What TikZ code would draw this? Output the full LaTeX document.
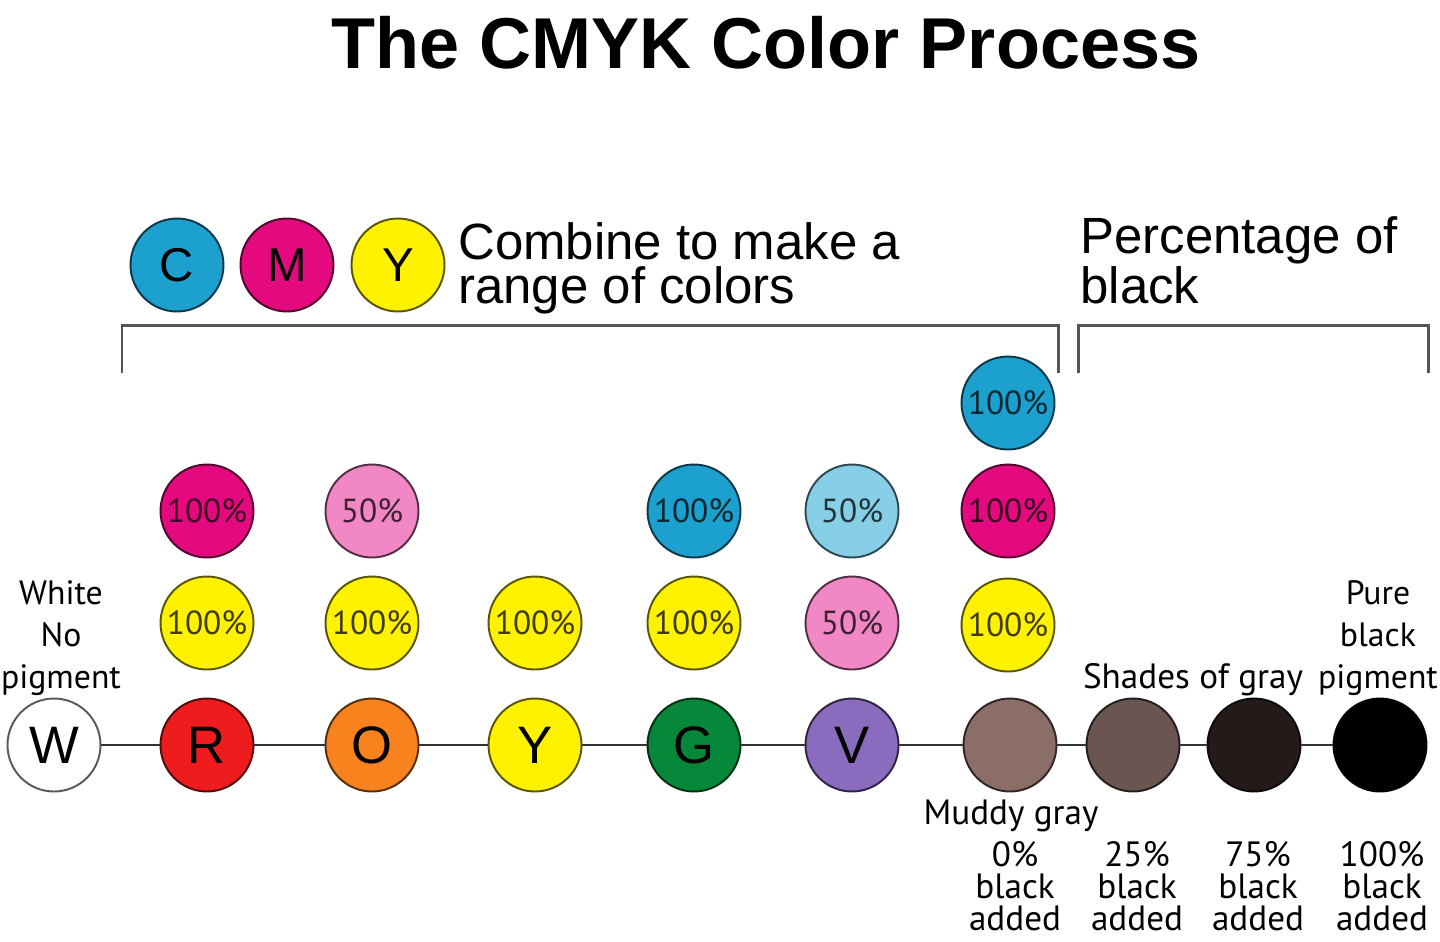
\documentclass[tikz,border=0pt]{standalone}
\usepackage{fontspec}
\setmainfont{Liberation Sans}
\newfontfamily\labelfont{PT Sans}
\usetikzlibrary{calc}

\definecolor{inkcyan}{HTML}{1CA0CD}
\definecolor{inkcyanhalf}{HTML}{86CFE6}
\definecolor{inkmagenta}{HTML}{E5097F}
\definecolor{inkpink}{HTML}{F187C5}
\definecolor{inkyellow}{HTML}{FFF200}
\definecolor{hue red}{HTML}{EE1C1C}
\definecolor{hue orange}{HTML}{F7821E}
\definecolor{hue green}{HTML}{06873A}
\definecolor{hue violet}{HTML}{8A6BBE}
\definecolor{muddy}{HTML}{8A6E67}
\definecolor{gray25}{HTML}{6B5550}
\definecolor{gray75}{HTML}{231A19}
\definecolor{bracketgray}{HTML}{555555}

\newcommand\pctfont[0]{\labelfont\fontsize{19}{19}\selectfont}
\newcommand\capfont[0]{\labelfont\fontsize{20}{23.9}\selectfont}
\newcommand\sidefont[0]{\labelfont\fontsize{19.2}{23.9}\selectfont}
\newcommand\addfont[0]{\labelfont\fontsize{20}{18.2}\selectfont}

\tikzset{
  dot/.style={circle, fill=#1, draw=#1!35!black, line width=1.1pt, minimum size=1.86cm, inner sep=0pt},
  pct/.style={dot=#1, text=#1!25!black, font=\pctfont},
  hue/.style={dot=#1, font=\fontsize{30}{30}\selectfont},
  ink/.style={dot=#1, font=\fontsize{27}{27}\selectfont},
  caption/.style={inner sep=0pt, align=center, font=\capfont},
  bracket/.style={bracketgray, line width=1.7pt}
}

\begin{document}
\begin{tikzpicture}[x=0.02cm,y=-0.02cm]
\useasboundingbox[fill=white] (0,0) rectangle (1440,941);

\node[inner sep=0pt, anchor=base, font=\fontsize{41}{41}\selectfont\bfseries] (title) at (766,68) {The CMYK Color Process};

% the three inks
\node[ink=inkcyan] (inkC) at (177,265) {C};
\node[ink=inkmagenta] (inkM) at (287,265) {M};
\node[ink=inkyellow] (inkY) at (398,265) {Y};

\node[inner sep=0pt, anchor=base west, align=left, font=\fontsize{29}{24.5}\selectfont] (combine) at (458,303) {Combine to make a\\range of colors};
\node[inner sep=0pt, anchor=base west, align=left, font=\fontsize{29}{24.5}\selectfont] (percentage) at (1080,303) {Percentage of\\black};

\draw[bracket] (122,373) |- (1058,325) -- (1058,373);
\draw[bracket] (1078,373) |- (1428,325) -- (1428,373);

% ink amounts
\node[pct=inkmagenta] (Rm) at (207,511) {100\%};
\node[pct=inkyellow] (Ry) at (207,623) {100\%};
\node[pct=inkpink] (Om) at (372,511) {50\%};
\node[pct=inkyellow] (Oy) at (372,623) {100\%};
\node[pct=inkyellow] (Yy) at (535,623) {100\%};
\node[pct=inkcyan] (Gc) at (694,511) {100\%};
\node[pct=inkyellow] (Gy) at (694,623) {100\%};
\node[pct=inkcyanhalf] (Vc) at (852,511) {50\%};
\node[pct=inkpink] (Vm) at (852,623) {50\%};
\node[pct=inkcyan] (MGc) at (1008,403) {100\%};
\node[pct=inkmagenta] (MGm) at (1008,511) {100\%};
\node[pct=inkyellow] (MGy) at (1008,625) {100\%};

% resulting colors
\node[hue=white] (W) at (54,745) {W};
\node[hue=hue red] (R) at (207,745) {R};
\node[hue=hue orange] (O) at (372,745) {O};
\node[hue=inkyellow] (Y) at (535,745) {Y};
\node[hue=hue green] (G) at (694,745) {G};
\node[hue=hue violet] (V) at (852,745) {V};
\node[dot=muddy] (MG) at (1010,745) {};
\node[dot=gray25] (K25) at (1133,745) {};
\node[dot=gray75] (K75) at (1254,745) {};
\node[dot=black] (K100) at (1380,745) {};

\draw[black!80, line width=1.1pt] (W)--(R)--(O)--(Y)--(G)--(V)--(MG)--(K25)--(K75)--(K100);

\node[caption, anchor=base, font=\sidefont] (white) at (61,688) {White\\No\\pigment};
\node[caption, anchor=base, font=\sidefont] (pure) at (1378,688) {Pure\\black\\pigment};
\node[caption, anchor=base] (shades) at (1193,688) {Shades of gray};
\node[caption, anchor=base] (mud) at (1011,824) {Muddy gray};

\node[caption, anchor=base, font=\addfont] (add0) at (1015,930) {0\%\\black\\added};
\node[caption, anchor=base, font=\addfont] (add25) at (1137,930) {25\%\\black\\added};
\node[caption, anchor=base, font=\addfont] (add75) at (1258,930) {75\%\\black\\added};
\node[caption, anchor=base, font=\addfont] (add100) at (1382,930) {100\%\\black\\added};

\end{tikzpicture}
\end{document}
